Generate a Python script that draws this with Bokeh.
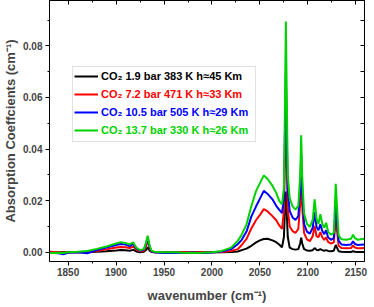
from bokeh.plotting import figure
from bokeh.models import (LinearAxis, SingleIntervalTicker, NumeralTickFormatter,
                          Legend, LegendItem, BoxAnnotation, Range1d,
                          CustomJSTickFormatter)
from bokeh.embed import file_html
from bokeh.resources import INLINE

# ---------------- data ----------------
wavenumber = [
    1831, 1840, 1845, 1850, 1860, 1870, 1880, 1890, 1900, 1905,
    1910, 1914, 1918, 1921, 1925, 1929, 1931, 1933, 1935, 1937,
    1940, 1950, 1960, 1970, 1980, 1990, 2000, 2010, 2020, 2027,
    2031, 2036, 2041, 2046, 2050, 2054, 2058, 2063, 2067, 2070,
    2073, 2075, 2076, 2077, 2078, 2079, 2081, 2084, 2087, 2090,
    2092, 2093, 2094, 2096, 2099, 2102, 2105, 2107, 2109, 2111,
    2113, 2115, 2117, 2119, 2121, 2124, 2127, 2129, 2130, 2132,
    2135, 2140, 2145, 2147, 2149, 2152, 2155, 2159]

co2_1p9bar = [
    0.0, 0.0, 0.0, 0.0, 0.0, 0.0, 0.0002, 0.0004, 0.0007, 0.0009,
    0.0008, 0.0006, 0.0009, 0.0003, 0.0, 0.0002, 0.0008, 0.0019, 0.0006, 0.0001,
    0.0, 0.0, 0.0, 0.0, 0.0, 0.0, 0.0, 0.0, 0.0001, 0.0003,
    0.0008, 0.0014, 0.0025, 0.0038, 0.0046, 0.0051, 0.0052, 0.0046, 0.0039, 0.0030,
    0.0019, 0.006, 0.016, 0.0235, 0.015, 0.006, 0.0018, 0.0012, 0.0010, 0.0012,
    0.0035, 0.0056, 0.0035, 0.0012, 0.0007, 0.0006, 0.0008, 0.0016, 0.0009, 0.0008,
    0.0012, 0.0008, 0.0006, 0.0008, 0.0005, 0.0004, 0.0006, 0.0028, 0.0020, 0.0004,
    0.0002, 0.0001, 0.0001, 0.0004, 0.0002, 0.0001, 0.0001, 0.0001]

co2_7p2bar = [
    0.0002, 0.0, -0.0002, 0.0, 0.0, 0.0001, 0.0005, 0.0011, 0.0018, 0.0020,
    0.0019, 0.0016, 0.0022, 0.0010, 0.0003, 0.0006, 0.0020, 0.0045, 0.0015, 0.0003,
    0.0, 0.0, -0.0001, 0.0, -0.0001, 0.0, 0.0, 0.0001, 0.0005, 0.0012,
    0.0028, 0.0052, 0.0092, 0.0125, 0.0145, 0.0167, 0.0158, 0.0140, 0.0124, 0.0105,
    0.0090, 0.016, 0.035, 0.055, 0.035, 0.017, 0.0100, 0.0082, 0.0075, 0.0090,
    0.019, 0.030, 0.018, 0.0075, 0.0050, 0.0043, 0.0062, 0.0102, 0.0062, 0.0058,
    0.0078, 0.0058, 0.0048, 0.0058, 0.0040, 0.0033, 0.0038, 0.0125, 0.0095, 0.0025,
    0.0016, 0.0015, 0.0016, 0.0026, 0.0018, 0.0015, 0.0015, 0.0016]

co2_10p5bar = [
    -0.0002, -0.0004, -0.0008, -0.0002, 0.0, -0.0004, 0.0008, 0.0018, 0.0028, 0.0032,
    0.0030, 0.0024, 0.0032, 0.0015, 0.0006, 0.0010, 0.0030, 0.0056, 0.0020, 0.0004,
    0.0, -0.0003, -0.0002, -0.0003, -0.0002, -0.0003, -0.0001, 0.0003, 0.0012, 0.0032,
    0.0048, 0.0080, 0.0138, 0.0178, 0.0208, 0.0238, 0.0226, 0.0205, 0.0180, 0.0165,
    0.0152, 0.021, 0.045, 0.069, 0.045, 0.024, 0.0160, 0.0135, 0.0125, 0.0140,
    0.025, 0.038, 0.024, 0.0110, 0.0080, 0.0072, 0.0095, 0.0155, 0.0098, 0.0085,
    0.0108, 0.0082, 0.0070, 0.0085, 0.0058, 0.0048, 0.0055, 0.018, 0.014, 0.0045,
    0.0030, 0.0028, 0.0030, 0.0042, 0.0032, 0.0028, 0.0029, 0.0030]

co2_13p7bar = [
    -0.0003, -0.0002, -0.0003, 0.0, 0.0002, 0.0005, 0.0013, 0.0022, 0.0034, 0.0039,
    0.0036, 0.0030, 0.0038, 0.0018, 0.0008, 0.0012, 0.0035, 0.0064, 0.0025, 0.0006,
    0.0002, 0.0, 0.0, -0.0002, -0.0003, -0.0002, 0.0, 0.0005, 0.0018, 0.0045,
    0.0068, 0.0108, 0.0178, 0.0238, 0.0268, 0.0298, 0.0284, 0.0258, 0.0230, 0.0200,
    0.0185, 0.025, 0.055, 0.0895, 0.060, 0.030, 0.0210, 0.0178, 0.0165, 0.0180,
    0.030, 0.0453, 0.030, 0.0150, 0.0110, 0.0098, 0.0125, 0.0205, 0.0130, 0.0110,
    0.0147, 0.0110, 0.0095, 0.0114, 0.0080, 0.0068, 0.0075, 0.0265, 0.020, 0.0065,
    0.0050, 0.0048, 0.0052, 0.0068, 0.0055, 0.0048, 0.0050, 0.0052]

series_labels = ["CO\u2082 1.9 bar 383 K h\u224845 Km",
                 "CO\u2082 7.2 bar 471 K h\u224833 Km",
                 "CO\u2082 10.5 bar 505 K h\u224829 Km",
                 "CO\u2082 13.7 bar 330 K h\u224826 Km"]
series_colors = ["#000000", "#ff0000", "#0000ff", "#00d200"]
series_values = [co2_1p9bar, co2_7p2bar, co2_10p5bar, co2_13p7bar]

x_title = "wavenumber (cm\u207b\u00b9)"
y_title = "Absorption Coeffcients (cm\u207b\u00b9)"
x_start, x_end = 1830.6, 2159.0
y_start, y_end = -0.0036, 0.0976
x_major_ticks = 50
y_major_ticks = 0.02

FONT = "Liberation Sans"

p = figure(width=372, height=305,
           x_range=Range1d(x_start, x_end), y_range=Range1d(y_start, y_end),
           output_backend="svg", toolbar_location=None,
           min_border_left=48, min_border_right=8, min_border_top=0,
           min_border_bottom=44)
p.xgrid.visible = False
p.ygrid.visible = False
p.outline_line_color = "black"
p.outline_line_width = 1
p.background_fill_color = "white"
p.border_fill_color = "white"

renderers = []
for vals, col in zip(series_values, series_colors):
    r = p.line(wavenumber, vals, line_color=col, line_width=2)
    renderers.append(r)

# bottom axis
xa = p.xaxis[0]
xa.ticker = SingleIntervalTicker(interval=x_major_ticks, num_minor_ticks=2)
xa.axis_label = x_title
xa.axis_label_text_font = FONT
xa.axis_label_text_font_style = "bold"
xa.axis_label_text_font_size = "13px"
xa.axis_label_standoff = 9
xa.major_label_text_font = FONT
xa.major_label_text_font_style = "bold"
xa.major_label_text_font_size = "10px"
xa.major_label_standoff = 2
xa.major_tick_out = 4
xa.major_tick_in = 0
xa.minor_tick_out = 2
xa.minor_tick_in = 0

# left axis
ya = p.yaxis[0]
ya.ticker = SingleIntervalTicker(interval=y_major_ticks, num_minor_ticks=2)
ya.formatter = NumeralTickFormatter(format="0.00")
ya.axis_label = y_title
ya.axis_label_text_font = FONT
ya.axis_label_text_font_style = "bold"
ya.axis_label_text_font_size = "13px"
ya.axis_label_standoff = 2
ya.major_label_text_font = FONT
ya.major_label_text_font_style = "bold"
ya.major_label_text_font_size = "10px"
ya.major_label_standoff = 3
ya.major_tick_out = 4
ya.major_tick_in = 0
ya.minor_tick_out = 2
ya.minor_tick_in = 0

# mirrored axes (ticks inward, no labels)
blank = CustomJSTickFormatter(code="return ''")
top = LinearAxis(ticker=SingleIntervalTicker(interval=x_major_ticks, num_minor_ticks=2),
                 formatter=blank, major_label_standoff=0, axis_label_standoff=0,
                 major_label_text_font_size="0px",
                 major_tick_in=4, major_tick_out=0, minor_tick_in=2, minor_tick_out=0)
p.add_layout(top, "above")
right = LinearAxis(ticker=SingleIntervalTicker(interval=0.01, num_minor_ticks=0),
                   formatter=blank, major_label_standoff=0, axis_label_standoff=0,
                   major_label_text_font_size="0px",
                   major_tick_in=4, major_tick_out=0, minor_tick_in=0, minor_tick_out=0)
p.add_layout(right, "right")

# legend frame
box = BoxAnnotation(left=23, right=206, bottom=120, top=195,
                    left_units="screen", right_units="screen",
                    top_units="screen", bottom_units="screen",
                    fill_color="white", fill_alpha=1.0,
                    line_color="#9a9a9a", line_width=1)
p.add_layout(box)

for i, (r, lab, col) in enumerate(zip(renderers, series_labels, series_colors)):
    lg = Legend(items=[LegendItem(label=lab, renderers=[r])],
                location=(25, 176 - 18 * i), padding=0, margin=0, spacing=0,
                glyph_width=24, glyph_height=18, label_height=18, label_standoff=3,
                label_text_font=FONT, label_text_font_style="bold",
                label_text_font_size="11px", label_text_color=col,
                border_line_alpha=0, background_fill_alpha=0)
    p.add_layout(lg)

open("out.html", "w").write(file_html(p, INLINE))
